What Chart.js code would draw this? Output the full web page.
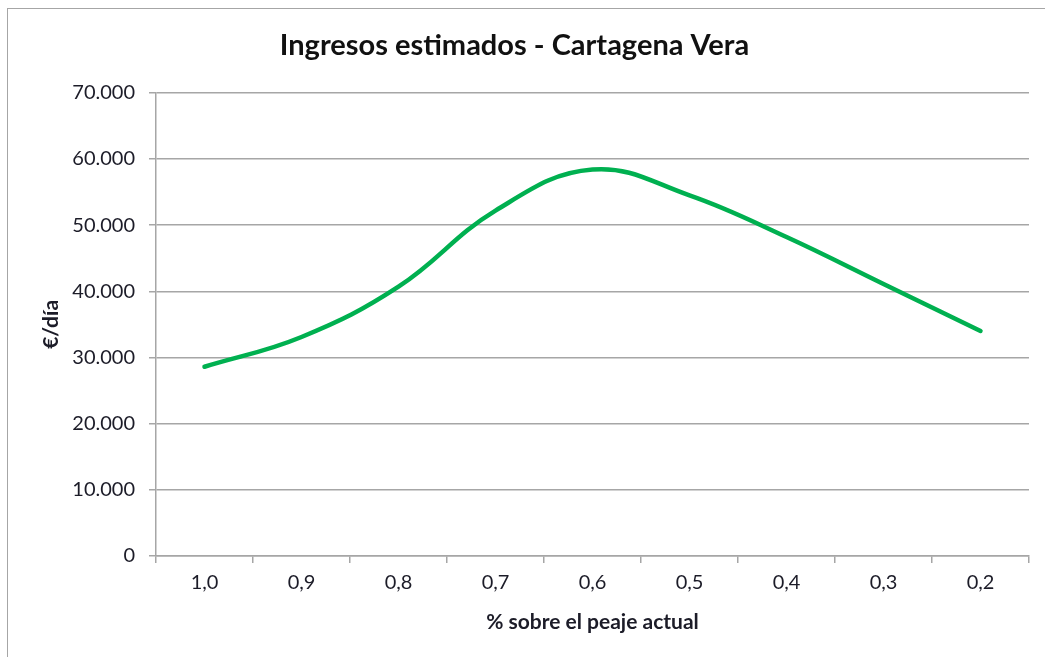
<!DOCTYPE html>
<html>
<head>
<meta charset="utf-8">
<script src="https://cdn.jsdelivr.net/npm/chart.js@4.4.1/dist/chart.umd.min.js"></script>
<style>
    body { margin: 0; background: #fff; }
    #frame { position: absolute; left: 7px; top: 8px; width: 1100px; height: 700px; border: 1.5px solid #a6a6a6; }
    #wrap { position: absolute; left: 0; top: 0; width: 1045px; height: 657px; }
</style>
</head>
<body>
<div id="frame"></div>
<div id="wrap"><canvas id="lineChart"></canvas></div>
<script>
const categories = ['1,0', '0,9', '0,8', '0,7', '0,6', '0,5', '0,4', '0,3', '0,2'];
const ingresos = [28600, 33100, 40700, 52200, 58400, 54500, 48200, 41100, 34000];
const yTicks = [0, 10000, 20000, 30000, 40000, 50000, 60000, 70000];

const gridColor = '#a6a6a6';
const textColor = '#1c1c28';

function formatMiles(v) {
    return String(v).replace(/\B(?=(\d{3})+(?!\d))/g, '.');
}

const ctx = document.getElementById('lineChart').getContext('2d');

new Chart(ctx, {
    type: 'line',
    data: {
        labels: categories,
        datasets: [
            {
                label: 'Ingresos',
                data: ingresos,
                borderColor: '#00b050',
                borderWidth: 4.5,
                borderCapStyle: 'round',
                tension: 0.4,
                pointRadius: 0,
                fill: false
            }
        ]
    },
    options: {
        responsive: true,
        maintainAspectRatio: false,
        animation: false,
        layout: { padding: { left: 0, right: 16, top: 0, bottom: 0 } },
        plugins: {
            legend: { display: false },
            tooltip: { enabled: false },
            title: {
                display: true,
                text: 'Ingresos estimados - Cartagena Vera',
                color: '#111',
                font: { family: 'Lato', size: 29, weight: 'bold' },
                padding: { top: 28, bottom: 30 }
            }
        },
        scales: {
            x: {
                offset: true,
                afterFit: (s) => { s.height = 101; },
                grid: { offset: true, drawOnChartArea: false, drawTicks: true, tickLength: 7, color: gridColor, lineWidth: 1.5 },
                border: { color: gridColor, width: 1.5 },
                ticks: { color: textColor, font: { family: 'Lato', size: 20 }, padding: 8, maxRotation: 0 },
                title: {
                    display: true,
                    text: '% sobre el peaje actual',
                    color: textColor,
                    font: { family: 'Lato', size: 21, weight: 'bold' },
                    padding: { top: 0, bottom: 22 }
                }
            },
            y: {
                min: 0,
                max: 70000,
                afterFit: (s) => { s.width = 156; },
                afterBuildTicks: (s) => { s.ticks = yTicks.map(v => ({ value: v })); },
                grid: { color: gridColor, lineWidth: 1.5, tickLength: 7 },
                border: { color: gridColor, width: 1.5 },
                ticks: {
                    color: textColor,
                    font: { family: 'Lato', size: 20 },
                    padding: 14,
                    callback: (v) => formatMiles(v)
                },
                title: {
                    display: true,
                    text: '€/día',
                    color: textColor,
                    font: { family: 'Lato', size: 21, weight: 'bold' },
                    padding: { top: 39, bottom: 0 }
                }
            }
        }
    }
});
</script>
</body>
</html>
